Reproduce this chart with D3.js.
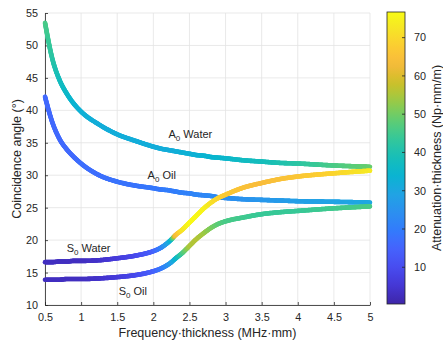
<!DOCTYPE html>
<html>
<head>
<meta charset="utf-8">
<script src="https://cdn.jsdelivr.net/npm/d3@7"></script>
<style>
  body { margin: 0; background: #fff; }
  text { font-family: "Liberation Sans", Arial, sans-serif; fill: #262626; }
</style>
</head>
<body>
<svg id="chart" width="443" height="342"></svg>
<script>
// frequency-thickness samples (MHz·mm), shared by all four curves
const freq = [0.5, 0.6, 0.7, 0.8, 0.9, 1.0, 1.25, 1.5, 1.75, 2.0, 2.1, 2.2, 2.25, 2.3, 2.4, 2.5,
  2.6, 2.7, 2.8, 2.9, 3.0, 3.25, 3.5, 3.75, 4.0, 4.5, 5.0];

// coincidence angle (deg)
const a0WaterAngle = [53.5, 48.0, 44.7, 42.6, 41.0, 39.8, 37.8, 36.3, 35.3, 34.4, 34.1, 33.9, 33.8, 33.7, 33.5, 33.3,
  33.1, 33.0, 32.8, 32.7, 32.6, 32.3, 32.1, 31.9, 31.8, 31.5, 31.3];
const a0OilAngle = [42.1, 38.2, 35.6, 34.0, 32.8, 31.8, 30.0, 29.0, 28.4, 28.0, 27.8, 27.7, 27.6, 27.5, 27.3, 27.2,
  27.0, 26.9, 26.8, 26.6, 26.5, 26.3, 26.2, 26.1, 26.0, 25.9, 25.8];
const s0WaterAngle = [16.6, 16.6, 16.7, 16.7, 16.8, 16.8, 16.9, 17.2, 17.6, 18.3, 18.8, 19.6, 20.1, 20.7, 21.6, 22.7,
  23.8, 24.9, 25.8, 26.5, 27.0, 28.1, 28.8, 29.4, 29.8, 30.3, 30.7];
const s0OilAngle = [13.9, 13.9, 13.9, 14.0, 14.0, 14.0, 14.1, 14.3, 14.6, 15.2, 15.6, 16.2, 16.6, 17.1, 18.0, 19.1,
  20.2, 21.1, 21.9, 22.5, 22.9, 23.5, 24.0, 24.3, 24.5, 24.9, 25.2];

// attenuation-thickness (Np·mm/m), drives the line colour
const a0WaterAtten = [46, 42, 38, 36, 34, 33, 32, 32, 32, 32, 32, 32, 32, 32, 33, 33,
  33, 34, 34, 35, 35, 37, 38, 40, 42, 46, 49];
const a0OilAtten = [16, 16, 16, 16, 16, 17, 17, 18, 18, 19, 19, 20, 20, 20, 21, 21,
  22, 22, 23, 23, 24, 25, 26, 27, 28, 29, 30];
const s0WaterAtten = [3, 3, 3, 3, 3, 3, 4, 6, 9, 14, 20, 29, 35, 62, 72, 76,
  76, 75, 72, 69, 67, 65, 64, 65, 66, 69, 73];
const s0OilAtten = [3, 3, 3, 3, 3, 3, 4, 6, 9, 14, 18, 24, 28, 33, 45, 55,
  56, 54, 51, 48, 46, 45, 44, 44, 44, 45, 46];

const xTicks = [0.5, 1, 1.5, 2, 2.5, 3, 3.5, 4, 4.5, 5];
const yTicks = [10, 15, 20, 25, 30, 35, 40, 45, 50, 55];
const cbTicks = [10, 20, 30, 40, 50, 60, 70];
const cbRange = [0.4, 76.7];

// parula (current matlab version), every 4th entry of the 64 entry table
const parulaIdx = [0, 4, 8, 12, 16, 20, 24, 28, 32, 36, 40, 44, 48, 52, 56, 60, 63];
const parulaRgb = [
  [0.2422, 0.1504, 0.6603], [0.2706, 0.2147, 0.8364], [0.2813, 0.3006, 0.9414], [0.2699, 0.3892, 0.9906],
  [0.1963, 0.4847, 0.9892], [0.1687, 0.5703, 0.9359], [0.1248, 0.6459, 0.8883], [0.0297, 0.7082, 0.8163],
  [0.0964, 0.7500, 0.7120], [0.2161, 0.7843, 0.5923], [0.3909, 0.8029, 0.4354], [0.6174, 0.7876, 0.2612],
  [0.8203, 0.7498, 0.1535], [0.9728, 0.7298, 0.2394], [0.9892, 0.8136, 0.1885], [0.9597, 0.9135, 0.1423],
  [0.9769, 0.9839, 0.0805]];
const parula = d3.scaleLinear()
  .domain(parulaIdx.map(i => i / 63))
  .range(parulaRgb.map(c => d3.rgb(c[0] * 255, c[1] * 255, c[2] * 255).toString()))
  .clamp(true);

const color = v => parula((v - cbRange[0]) / (cbRange[1] - cbRange[0]));

const svg = d3.select('#chart');
const x = d3.scaleLinear().domain([0.5, 5]).range([45, 370]);
const y = d3.scaleLinear().domain([10, 55]).range([305, 13]);
const grid = '#e3e3e3';
const ink = '#262626';

// grid
svg.append('g').selectAll('line').data(xTicks).join('line')
  .attr('x1', d => x(d)).attr('x2', d => x(d)).attr('y1', y(10)).attr('y2', y(55))
  .attr('stroke', grid).attr('stroke-width', 0.8);
svg.append('g').selectAll('line').data(yTicks).join('line')
  .attr('y1', d => y(d)).attr('y2', d => y(d)).attr('x1', x(0.5)).attr('x2', x(5))
  .attr('stroke', grid).attr('stroke-width', 0.8);

// axes (ticks point inward, like matlab)
const xAxis = svg.append('g').attr('transform', `translate(0,${y(10)})`)
  .call(d3.axisBottom(x).tickValues(xTicks).tickSize(-3).tickPadding(8).tickSizeOuter(0).tickFormat(d3.format('')));
const yAxis = svg.append('g').attr('transform', `translate(${x(0.5)},0)`)
  .call(d3.axisLeft(y).tickValues(yTicks).tickSize(-3).tickPadding(7).tickSizeOuter(0));
[xAxis, yAxis].forEach(a => {
  a.select('.domain').attr('stroke', ink).attr('stroke-width', 0.8);
  a.selectAll('.tick line').attr('stroke', ink).attr('stroke-width', 0.8);
  a.selectAll('.tick text').attr('font-size', '10.8px').attr('fill', ink)
    .attr('font-family', '"Liberation Sans", Arial, sans-serif');
});

// coloured curves: sample the smoothed path and paint short segments
const series = [
  {angle: a0WaterAngle, atten: a0WaterAtten},
  {angle: a0OilAngle, atten: a0OilAtten},
  {angle: s0WaterAngle, atten: s0WaterAtten},
  {angle: s0OilAngle, atten: s0OilAtten}
];
const line = d3.line().x(d => x(d[0])).y(d => y(d[1])).curve(d3.curveMonotoneX);
const curves = svg.append('g');
series.forEach(s => {
  const pts = freq.map((f, i) => [f, s.angle[i]]);
  const attAt = d3.scaleLinear().domain(freq).range(s.atten);
  const tmp = svg.append('path').attr('d', line(pts)).attr('fill', 'none');
  const node = tmp.node();
  const len = node.getTotalLength();
  const samples = d3.range(0, len, 1).concat([len]).map(l => node.getPointAtLength(l));
  tmp.remove();
  const g = curves.append('g');
  for (let i = 0; i < samples.length - 1; i++) {
    const p = samples[i], q = samples[i + 1];
    const f = x.invert((p.x + q.x) / 2);
    g.append('line')
      .attr('x1', p.x).attr('y1', p.y).attr('x2', q.x).attr('y2', q.y)
      .attr('stroke', color(attAt(f)))
      .attr('stroke-width', 4.6)
      .attr('stroke-linecap', 'round');
  }
});

// curve labels
const labels = [
  {main: 'A', sub: '0', rest: ' Water', f: 2.21, a: 36.2},
  {main: 'A', sub: '0', rest: ' Oil', f: 1.92, a: 30.0},
  {main: 'S', sub: '0', rest: ' Water', f: 0.80, a: 18.7},
  {main: 'S', sub: '0', rest: ' Oil', f: 1.52, a: 12.05}
];
labels.forEach(l => {
  const t = svg.append('text')
    .attr('x', x(l.f)).attr('y', y(l.a)).attr('dy', '0.3em')
    .attr('font-size', '11px');
  t.append('tspan').text(l.main);
  t.append('tspan').text(l.sub).attr('font-size', '8px').attr('dy', 3);
  t.append('tspan').text(l.rest).attr('dy', -3);
});

// axis titles
svg.append('text')
  .attr('x', (x(0.5) + x(5)) / 2).attr('y', 337)
  .attr('text-anchor', 'middle').attr('font-size', '12.5px')
  .text('Frequency·thickness (MHz·mm)');
svg.append('text')
  .attr('transform', `translate(17,${(y(10) + y(55)) / 2}) rotate(-90)`)
  .attr('dy', '0.35em')
  .attr('text-anchor', 'middle').attr('font-size', '12.5px')
  .text('Coincidence angle (°)');

// colorbar
const cbX = 387, cbW = 18;
const cb = d3.scaleLinear().domain(cbRange).range([304, 12]);
const defs = svg.append('defs');
const grad = defs.append('linearGradient').attr('id', 'cbgrad')
  .attr('x1', 0).attr('y1', 1).attr('x2', 0).attr('y2', 0);
d3.range(0, 1.0001, 1 / 32).forEach(t => {
  grad.append('stop').attr('offset', t).attr('stop-color', parula(t));
});
svg.append('rect').attr('x', cbX).attr('y', cb(cbRange[1])).attr('width', cbW)
  .attr('height', cb(cbRange[0]) - cb(cbRange[1]))
  .attr('fill', 'url(#cbgrad)').attr('stroke', ink).attr('stroke-width', 0.8);
const cbAxis = svg.append('g');
cbAxis.selectAll('line').data(cbTicks).join('line')
  .attr('x1', cbX + cbW - 3).attr('x2', cbX + cbW)
  .attr('y1', d => cb(d)).attr('y2', d => cb(d))
  .attr('stroke', ink).attr('stroke-width', 0.8);
cbAxis.selectAll('text').data(cbTicks).join('text')
  .attr('x', 414).attr('y', d => cb(d)).attr('dy', '0.35em')
  .attr('font-size', '10.8px').text(d => d);
svg.append('text')
  .attr('transform', `translate(437,${(cb(cbRange[0]) + cb(cbRange[1])) / 2}) rotate(-90)`)
  .attr('dy', '0.35em')
  .attr('text-anchor', 'middle').attr('font-size', '12.5px')
  .text('Attenuation·thickness (Np·mm/m)');
</script>
</body>
</html>
